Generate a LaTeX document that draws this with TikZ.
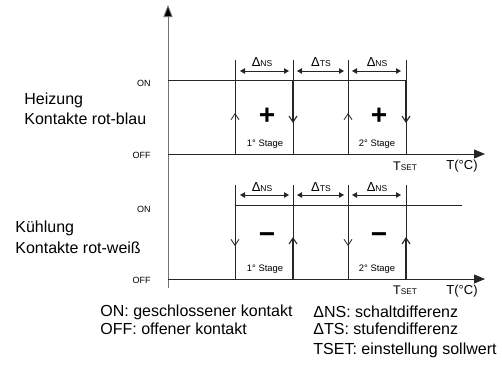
\documentclass[tikz,border=0pt]{standalone}
\usepackage{fontspec}
\setmainfont{Liberation Sans}
\usetikzlibrary{arrows.meta}
\begin{document}
\begin{tikzpicture}[x=1pt,y=-1pt,line width=0.8pt,
  sig/.style={draw=black!85},
  axisln/.style={draw=black!55,-{Triangle[length=12pt,width=9pt,fill=black]}},
  offln/.style={draw=black!85,-{Triangle[length=11pt,width=9pt]}},
  dlt/.style={draw=black!85,{Triangle[length=5pt,width=5.5pt]}-{Triangle[length=5pt,width=5.5pt]}},
  barb/.style={draw=black!85,-{Straight Barb[length=6pt,width=8pt]}},
  bigtxt/.style={font=\fontsize{16}{18}\selectfont,inner sep=0pt,anchor=west},
  lvl/.style={font=\fontsize{9}{10}\selectfont,inner sep=0pt,anchor=east},
  stg/.style={font=\fontsize{9.4}{10}\selectfont,inner sep=0pt},
  sgn/.style={font=\fontsize{28}{28}\selectfont\bfseries,inner sep=0pt},
  dl/.style={inner sep=0pt}
]
\useasboundingbox (0,0) rectangle (502,368);

% axis
\coordinate (ax0) at (168,288);
\coordinate (ax1) at (168,5);
\draw[axisln] (ax0) -- (ax1);

% ===== Heizung =====
\coordinate (hon0) at (168,80);
\coordinate (hon1) at (406,80);
\coordinate (hoff0) at (168,154);
\coordinate (hoff1) at (485,154);
\draw[sig] (hon0) -- (hon1);
\draw[offln] (hoff0) -- (hoff1);
\foreach \x in {235,293,348,406}{
  \draw[sig] (\x,60) -- (\x,154);
}
\draw[barb] (235,154) -- (235,113);
\draw[barb] (348,154) -- (348,113);
\draw[barb,line width=1.1pt] (293,80) -- (293,123);
\draw[barb,line width=1.1pt] (406,80) -- (406,123);
\draw[dlt] (240,71) -- (289,71);
\draw[dlt] (297,71) -- (344,71);
\draw[dlt] (352,71) -- (401,71);
\node[dl] (hd1) at (262,62) {{\fontsize{13}{13}\selectfont Δ}{\fontsize{8.5}{9}\selectfont NS}};
\node[dl] (hd2) at (321,62) {{\fontsize{13}{13}\selectfont Δ}{\fontsize{8.5}{9}\selectfont TS}};
\node[dl] (hd3) at (377,62) {{\fontsize{13}{13}\selectfont Δ}{\fontsize{8.5}{9}\selectfont NS}};
\node[sgn] (hp1) at (267,116) {+};
\node[sgn] (hp2) at (379,116) {+};
\node[stg] (hs1) at (265,144) {1° Stage};
\node[stg] (hs2) at (377,144) {2° Stage};
\node[dl] (hts) at (405,166) {{\fontsize{12.5}{12}\selectfont T}{\fontsize{8.3}{9}\selectfont SET}};
\node[dl,font=\fontsize{13}{13}\selectfont] (htc) at (462,166) {T(°C)};
\node[lvl] (hon) at (151,83) {ON};
\node[lvl] (hoff) at (151,155) {OFF};
\node[bigtxt] (h1) at (24,100) {Heizung};
\node[bigtxt] (h2) at (24,119) {Kontakte rot-blau};

% ===== Kuehlung =====
\coordinate (kon0) at (235,205);
\coordinate (kon1) at (462,205);
\coordinate (koff0) at (168,279);
\coordinate (koff1) at (485,279);
\draw[sig] (kon0) -- (kon1);
\draw[offln] (koff0) -- (koff1);
\foreach \x in {235,293,348,406}{
  \draw[sig] (\x,185) -- (\x,279);
}
\draw[barb] (235,205) -- (235,246);
\draw[barb] (348,205) -- (348,246);
\draw[barb,line width=1.1pt] (293,279) -- (293,237);
\draw[barb,line width=1.1pt] (406,279) -- (406,237);
\draw[dlt] (240,195) -- (289,195);
\draw[dlt] (297,195) -- (344,195);
\draw[dlt] (352,195) -- (401,195);
\node[dl] (kd1) at (262,187) {{\fontsize{13}{13}\selectfont Δ}{\fontsize{8.5}{9}\selectfont NS}};
\node[dl] (kd2) at (321,187) {{\fontsize{13}{13}\selectfont Δ}{\fontsize{8.5}{9}\selectfont TS}};
\node[dl] (kd3) at (377,187) {{\fontsize{13}{13}\selectfont Δ}{\fontsize{8.5}{9}\selectfont NS}};
\node[sgn] (km1) at (267,238) {−};
\node[sgn] (km2) at (379,238) {−};
\node[stg] (ks1) at (265,269) {1° Stage};
\node[stg] (ks2) at (377,269) {2° Stage};
\node[dl] (kts) at (405,290) {{\fontsize{12.5}{12}\selectfont T}{\fontsize{8.3}{9}\selectfont SET}};
\node[dl,font=\fontsize{13}{13}\selectfont] (ktc) at (462,291) {T(°C)};
\node[lvl] (kon) at (151,209) {ON};
\node[lvl] (koff) at (151,280) {OFF};
\node[bigtxt] (k1) at (15,228) {Kühlung};
\node[bigtxt] (k2) at (15,248) {Kontakte rot-weiß};

% ===== legend =====
\node[bigtxt] (l1) at (100,312) {ON: geschlossener kontakt};
\node[bigtxt] (l2) at (100,329) {OFF: offener kontakt};
\node[bigtxt] (l3) at (313,312) {ΔNS: schaltdifferenz};
\node[bigtxt] (l4) at (313,329) {ΔTS: stufendifferenz};
\node[bigtxt] (l5) at (313,350) {TSET: einstellung sollwert};
\end{tikzpicture}
\end{document}
